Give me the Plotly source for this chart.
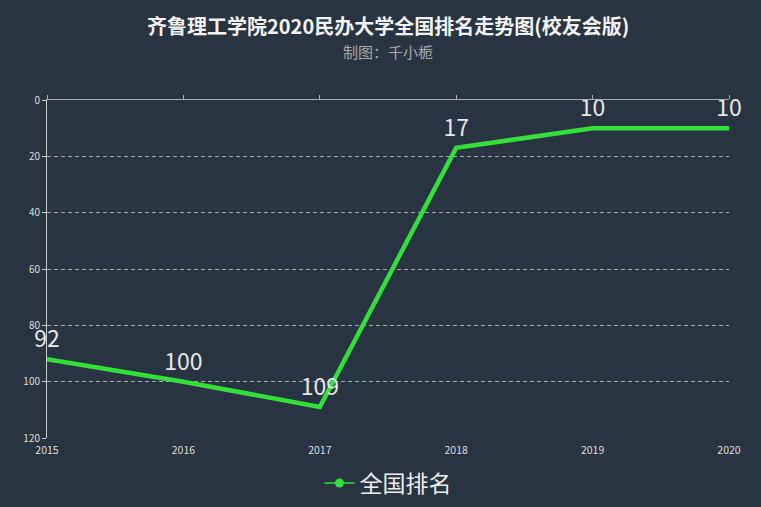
import plotly.graph_objects as go

years = ["2015", "2016", "2017", "2018", "2019", "2020"]
ranks = [92, 100, 109, 17, 10, 10]
series_name = "全国排名"
title_text = "齐鲁理工学院2020民办大学全国排名走势图(校友会版)"
subtitle_text = "制图：千小栀"

bg = "#283441"
green = "#33e03a"
font_family = "Noto Sans CJK SC, Microsoft YaHei, sans-serif"

W, H = 761, 507
ML, MR, MT, MB = 47, 32, 100, 69
plot_h = H - MT - MB


def paper_y(px):
    return (H - MB - px) / plot_h


fig = go.Figure()
fig.add_trace(go.Scatter(
    x=years, y=ranks, mode="lines+markers+text", name=series_name,
    line=dict(color=green, width=4.5),
    marker=dict(size=8, color="rgba(0,0,0,0)"),
    text=[str(v) for v in ranks], textposition="top center",
    textfont=dict(size=23, color="#e6e6e6", family=font_family),
    cliponaxis=False, showlegend=False,
))
# legend entry
fig.add_trace(go.Scatter(
    x=[None], y=[None], mode="lines+markers", name=series_name,
    line=dict(color=green, width=1.5), marker=dict(color=green, size=9),
))
# top axis helper
fig.add_trace(go.Scatter(x=years, y=ranks, xaxis="x2", mode="none",
                         showlegend=False, hoverinfo="skip"))

fig.update_layout(
    width=W, height=H,
    paper_bgcolor=bg, plot_bgcolor=bg,
    margin=dict(l=ML, r=MR, t=MT, b=MB, autoexpand=False),
    font=dict(family=font_family, color="#dddddd"),
    annotations=[
        dict(text=f"<b>{title_text}</b>", xref="paper", yref="paper",
             x=0.5, xanchor="center", y=paper_y(25), yanchor="middle",
             showarrow=False, font=dict(size=20, color="#f2f2f2", family=font_family)),
        dict(text=subtitle_text, xref="paper", yref="paper",
             x=0.5, xanchor="center", y=paper_y(52), yanchor="middle",
             showarrow=False, font=dict(size=15, color="#a8a8a8", family=font_family)),
    ],
    xaxis=dict(
        type="category", range=[0, 5], showgrid=False, showline=False,
        ticks="", tickfont=dict(size=10.5, color="#dddddd"), zeroline=False,
        ticklabelstandoff=4,
    ),
    xaxis2=dict(
        type="category", range=[0, 5], overlaying="x", side="top",
        showgrid=False, showline=True, linecolor="#aaaaaa", linewidth=1,
        ticks="outside", ticklen=4, tickcolor="#aaaaaa",
        showticklabels=False, zeroline=False, matches="x",
    ),
    yaxis=dict(
        range=[120, 0], tickvals=[0, 20, 40, 60, 80, 100, 120],
        showgrid=True, gridcolor="#aaaaaa", griddash="4px,3px", gridwidth=1,
        showline=True, linecolor="#cccccc", linewidth=1,
        ticks="outside", ticklen=4, tickcolor="#cccccc",
        tickfont=dict(size=10, color="#dddddd"), zeroline=False,
    ),
    legend=dict(
        orientation="h", x=0.5, xanchor="center", y=paper_y(483), yanchor="middle",
        font=dict(size=23, color="#eeeeee", family=font_family),
        bgcolor="rgba(0,0,0,0)", itemwidth=30,
    ),
)

fig.write_html("out.html", config={"displayModeBar": False},
               post_script="document.body.style.margin='0';")
